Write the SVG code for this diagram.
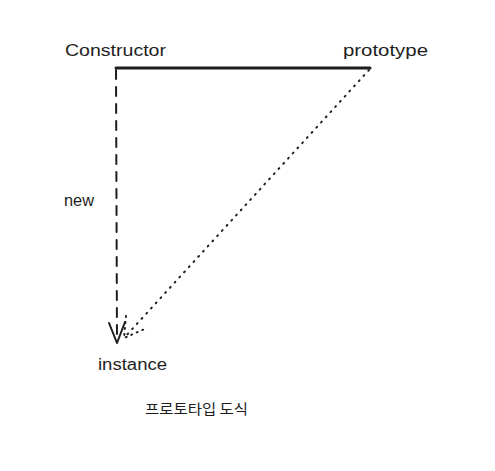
<svg xmlns="http://www.w3.org/2000/svg" width="495" height="471" viewBox="0 0 495 471">
<style>
.t{font-family:"Liberation Sans","Noto Sans CJK KR",sans-serif;font-size:16px;fill:#1e1e1e}
.k{font-family:"Noto Sans CJK KR",sans-serif;font-size:14px;fill:#1e1e1e}
.ln{fill:none;stroke:#1e1e1e;stroke-linecap:round;stroke-linejoin:round}
</style>
<rect width="495" height="471" fill="#fff"/>
<g id="connectors">
<path class="ln" d="M116 68 L370 68" stroke-width="3"/>
<path class="ln" d="M116 70 L117 342" stroke-width="2" stroke-dasharray="9 8"/>
<path class="ln" d="M109 323 L117 343 L125 322" stroke-width="2"/>
<path class="ln" d="M369 70 L124 338" stroke-width="2" stroke-dasharray="1 6"/>
<path class="ln" d="M126 316 L124 338 L147 328" stroke-width="2" stroke-dasharray="1 5"/>
</g>
<g id="constructor"><text class="t" x="65" y="56" textLength="101" lengthAdjust="spacingAndGlyphs">Constructor</text></g>
<g id="prototype"><text class="t" x="343" y="56" textLength="85" lengthAdjust="spacingAndGlyphs">prototype</text></g>
<g id="new"><text class="t" x="64" y="206" textLength="30" lengthAdjust="spacingAndGlyphs">new</text></g>
<g id="instance"><text class="t" x="98" y="370" textLength="69" lengthAdjust="spacingAndGlyphs">instance</text></g>
<g id="caption"><text class="k" x="145" y="414" textLength="103" lengthAdjust="spacingAndGlyphs">프로토타입 도식</text></g>
</svg>
